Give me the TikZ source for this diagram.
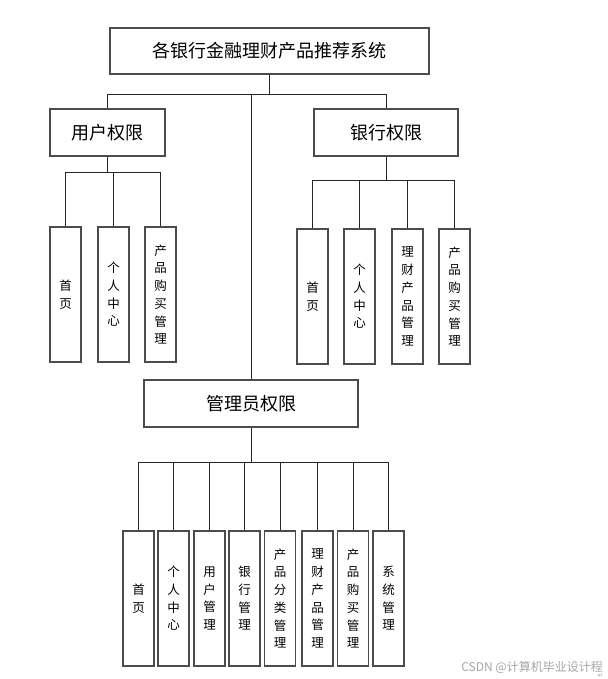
\documentclass[tikz,border=0pt]{standalone}
\usepackage{fontspec}
\setmainfont{Noto Sans CJK SC}
\newfontfamily\symfont{DejaVu Sans}
\begin{document}
\begin{tikzpicture}[x=1pt,y=-1pt,
  box/.style={draw=black!70, line width=1.3pt, inner sep=0pt, font=\fontsize{18}{20}\selectfont},
  leaf/.style={draw=black!70, line width=1.3pt, inner sep=0pt, minimum width=31pt, minimum height=135pt,
    align=center, font=\fontsize{12.5}{17.7}\selectfont},
  conn/.style={draw=black!85, line width=0.8pt}]
\useasboundingbox (0,0) rectangle (607,679);
\fill[white] (0,0) rectangle (607,679);
% main boxes
\node[box, minimum width=319pt, minimum height=46pt] (top) at (269.5,51) {各银行金融理财产品推荐系统};
\node[box, minimum width=115pt, minimum height=47pt] (user) at (107.5,132.5) {用户权限};
\node[box, minimum width=144pt, minimum height=47pt] (bank) at (386,132.5) {银行权限};
\node[box, minimum width=214pt, minimum height=47pt] (admin) at (251,403.5) {管理员权限};
% user children
\node[leaf] (u1) at (65.5,294.5) {首\\页};
\node[leaf] (u2) at (113.5,294.5) {个\\人\\中\\心};
\node[leaf] (u3) at (160.5,294.5) {产\\品\\购\\买\\管\\理};
% bank children
\node[leaf] (k1) at (312.5,296.5) {首\\页};
\node[leaf] (k2) at (359.5,296.5) {个\\人\\中\\心};
\node[leaf] (k3) at (407.5,296.5) {理\\财\\产\\品\\管\\理};
\node[leaf] (k4) at (454.5,296.5) {产\\品\\购\\买\\管\\理};
% admin children
\node[leaf] (a1) at (138.5,598.5) {首\\页};
\node[leaf] (a2) at (173.5,598.5) {个\\人\\中\\心};
\node[leaf] (a3) at (209.5,598.5) {用\\户\\管\\理};
\node[leaf] (a4) at (244.5,598.5) {银\\行\\管\\理};
\node[leaf] (a5) at (280,598.5) {产\\品\\分\\类\\管\\理};
\node[leaf] (a6) at (317.5,598.5) {理\\财\\产\\品\\管\\理};
\node[leaf] (a7) at (353,598.5) {产\\品\\购\\买\\管\\理};
\node[leaf] (a8) at (388.5,598.5) {系\\统\\管\\理};
% bus coordinates
\coordinate (tb) at (0,94);
\coordinate (ub) at (0,172);
\coordinate (kb) at (0,180);
\coordinate (ab) at (0,462);
% top level connectors
\draw[conn] (top.south) -- (top.south |- tb);
\draw[conn] (user.north) -- (user.north |- tb) -- (bank.north |- tb) -- (bank.north);
\draw[conn] (admin.north) -- (admin.north |- tb);
% user
\draw[conn] (user.south) -- (user.south |- ub);
\draw[conn] (u1.north) -- (u1.north |- ub) -- (u3.north |- ub) -- (u3.north);
\draw[conn] (u2.north) -- (u2.north |- ub);
% bank
\draw[conn] (bank.south) -- (bank.south |- kb);
\draw[conn] (k1.north) -- (k1.north |- kb) -- (k4.north |- kb) -- (k4.north);
\foreach \n in {k2,k3} \draw[conn] (\n.north) -- (\n.north |- kb);
% admin
\draw[conn] (admin.south) -- (admin.south |- ab);
\draw[conn] (a1.north) -- (a1.north |- ab) -- (a8.north |- ab) -- (a8.north);
\foreach \n in {a2,a3,a4,a5,a6,a7} \draw[conn] (\n.north) -- (\n.north |- ab);
% watermark
\node[anchor=east, text=black!35, inner sep=0pt, font=\fontsize{12}{12}\selectfont] (wm) at (603,667) {CSDN @计算机毕业设计程};
\node[anchor=north east, text=black!45, inner sep=0pt, font=\symfont\fontsize{6}{6}\selectfont] (ret) at (603,674) {↵};
\end{tikzpicture}
\end{document}
